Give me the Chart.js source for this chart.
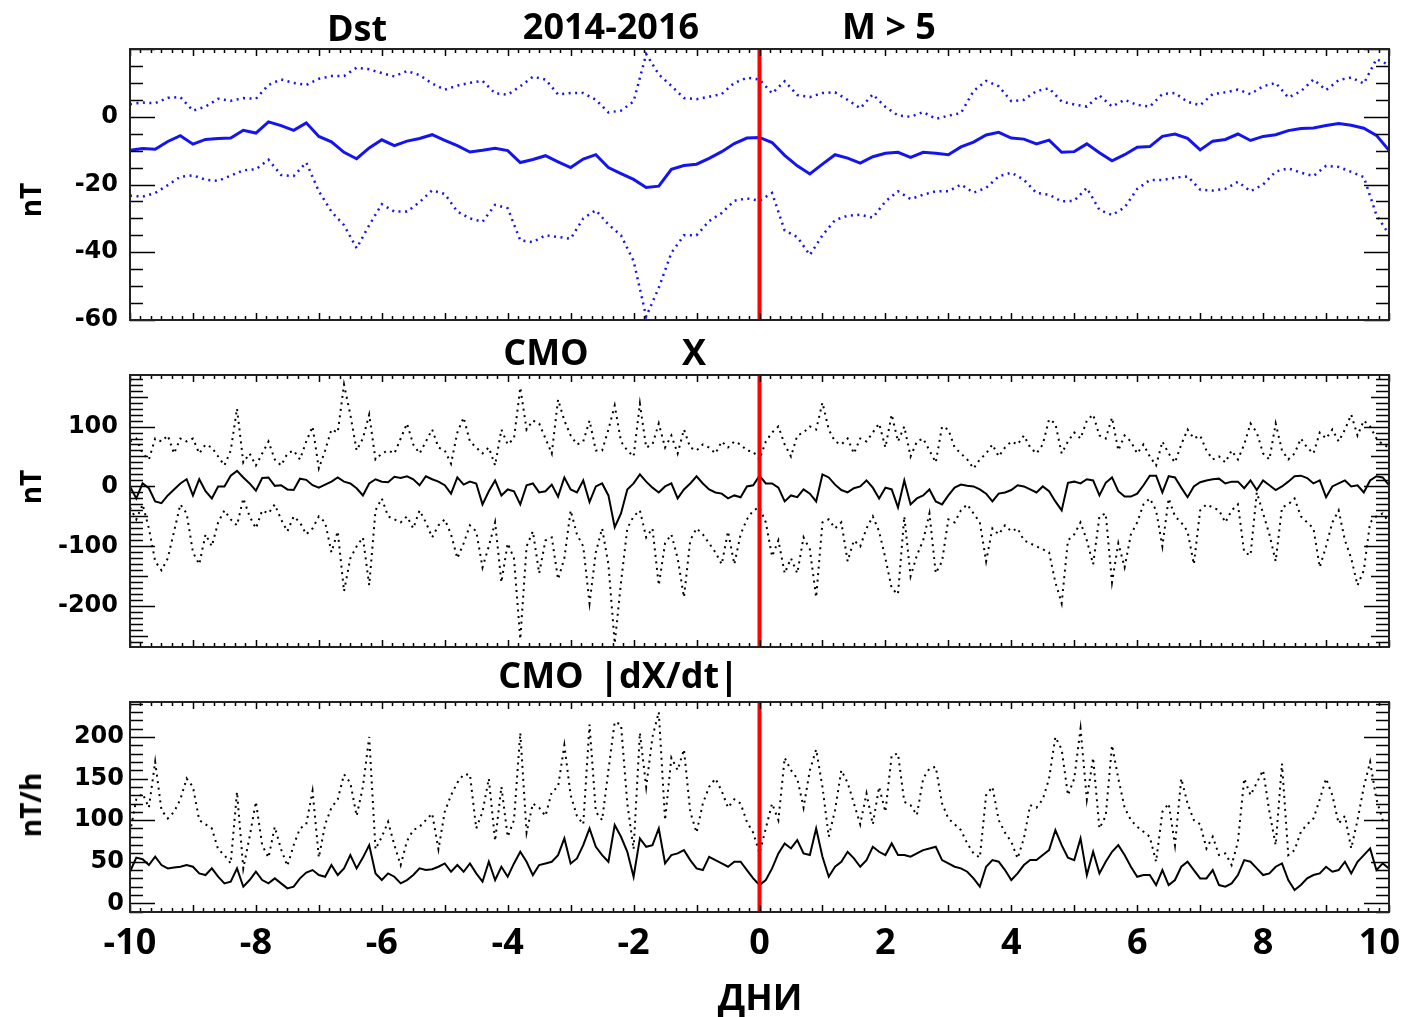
<!DOCTYPE html>
<html lang="ru">
<head>
<meta charset="UTF-8">
<title>Dst, CMO X, CMO |dX/dt| — 2014-2016, M &gt; 5</title>
<script src="https://cdn.jsdelivr.net/npm/chart.js"></script>
<style>
    body { margin: 0; background: #fff; }
    #wrap { position: relative; width: 1403px; height: 1017px; overflow: hidden; }
    #wrap canvas { position: absolute; left: 0; top: 0; }
    .lbl { position: absolute; font-family: "Open Sans", sans-serif; font-weight: 700; color: #000;
           white-space: nowrap; line-height: 1; transform: translate(-50%, -50%); }
    .big { font-size: 36px; }
    .ytitle { font-size: 28px; transform: translate(-50%, -50%) rotate(-90deg); }
</style>
</head>
<body>
<div id="wrap">
    <canvas id="pDst" width="1403" height="1017"></canvas>
    <canvas id="pX" width="1403" height="1017"></canvas>
    <canvas id="pDxdt" width="1403" height="1017"></canvas>

    <div class="lbl big" style="left:357px; top:28px;">Dst</div>
    <div class="lbl big" style="left:611px; top:26px;">2014-2016</div>
    <div class="lbl big" style="left:889px; top:26px;">M &gt; 5</div>
    <div class="lbl big" style="left:546px; top:352px;">CMO</div>
    <div class="lbl big" style="left:694px; top:352px;">X</div>
    <div class="lbl big" style="left:541px; top:675px;">CMO</div>
    <div class="lbl big" style="left:669px; top:675px;">|dX/dt|</div>
    <div class="lbl big" style="left:760px; top:997px;">ДНИ</div>
    <div class="lbl ytitle" style="left:30px; top:200px;">nT</div>
    <div class="lbl ytitle" style="left:30px; top:487px;">nT</div>
    <div class="lbl ytitle" style="left:30px; top:805px;">nT/h</div>
</div>
<script>
// время относительно события, сутки
const eventDay = 0;
const dayTicks = [-10, -8, -6, -4, -2, 0, 2, 4, 6, 8, 10];

// Dst: шаг 0.2 суток, от -10 до 10
const dstStep = 0.2;
const dstMean = [
    -9.9,-9.4,-9.6,-7.3,-5.6,-8.1,-6.7,-6.4,-6.3,-4.0,
    -4.8,-1.5,-2.6,-4.0,-1.8,-5.8,-7.4,-10.5,-12.4,-9.2,
    -6.8,-8.5,-7.2,-6.4,-5.3,-7.0,-8.5,-10.4,-9.9,-9.3,
    -10.0,-13.5,-12.6,-11.5,-13.3,-15.0,-12.5,-11.2,-15.0,-16.8,
    -18.5,-20.9,-20.5,-15.5,-14.4,-14.0,-12.3,-10.3,-7.9,-6.3,
    -6.1,
    -7.6,-11.4,-14.5,-16.9,-14.0,-11.2,-12.2,-13.7,-11.8,-10.8,
    -10.5,-12.0,-10.5,-10.8,-11.2,-8.9,-7.5,-5.4,-4.6,-6.3,
    -6.6,-8.0,-6.9,-10.5,-10.3,-8.0,-10.6,-13.0,-11.2,-9.0,
    -8.8,-5.8,-5.1,-6.4,-9.8,-7.2,-6.7,-5.1,-7.0,-5.8,
    -5.3,-4.1,-3.5,-3.3,-2.6,-2.0,-2.5,-3.4,-5.5,-9.9
];
const dstUpper = [
    3.7,4.2,4.0,5.6,5.8,1.8,3.0,5.3,4.7,5.5,
    5.3,9.4,11.0,10.0,9.4,11.2,12.0,12.0,14.5,14.0,
    12.9,11.9,13.5,12.3,9.8,8.0,9.2,10.0,10.6,6.9,
    6.5,9.0,11.8,11.0,6.6,7.0,7.0,5.0,1.3,1.8,
    4.5,18.5,12.5,9.1,5.5,5.2,5.9,6.7,10.0,11.5,
    11.0,
    6.9,10.5,6.4,5.8,7.0,7.2,5.0,2.5,6.6,2.9,
    0.4,0.0,1.4,-0.6,0.3,1.1,7.6,10.6,9.0,4.6,
    5.0,7.6,8.4,4.5,3.6,3.0,6.3,3.0,5.0,3.5,
    3.0,6.7,7.0,4.4,3.4,6.7,7.2,8.0,6.7,9.0,
    10.0,5.7,7.5,11.0,7.9,10.8,11.6,9.8,17.0,15.3
];
const dstLower = [
    -23.3,-23.6,-22.5,-20.2,-17.7,-17.3,-18.6,-18.9,-17.4,-15.8,
    -15.5,-12.7,-17.2,-17.5,-13.5,-22.0,-28.0,-32.0,-38.8,-32.0,
    -25.8,-28.0,-28.0,-25.2,-21.7,-22.8,-28.0,-30.0,-31.0,-26.0,
    -27.0,-36.5,-37.0,-35.0,-35.5,-36.0,-30.0,-27.6,-31.8,-35.0,
    -42.6,-59.0,-50.5,-40.2,-35.0,-35.0,-30.8,-28.4,-24.8,-24.1,
    -24.8,
    -22.5,-33.6,-35.5,-40.8,-35.0,-30.5,-29.2,-28.9,-29.8,-25.0,
    -22.0,-24.3,-23.0,-22.0,-22.0,-20.0,-22.4,-21.0,-17.6,-16.5,
    -18.6,-22.5,-23.0,-25.0,-24.8,-21.0,-27.5,-29.0,-26.8,-21.3,
    -18.7,-18.7,-18.0,-17.6,-21.5,-21.8,-21.3,-19.2,-22.0,-20.0,
    -16.2,-15.2,-16.5,-17.5,-14.5,-14.8,-16.3,-17.8,-29.0,-34.7
];
const dstTicks = [0, -20, -40, -60];

// CMO X: шаг 0.1 суток
const cmoStep = 0.1;
const cmoXMean = [
    0,-20,5,-3,-25,-28,-15,-5,5,12,
    -15,12,-8,-20,0,0,18,26,15,5,
    -7,14,15,1,2,-5,-6,13,11,2,
    -2,3,8,15,8,5,-3,-15,5,12,
    8,7,16,14,17,12,2,17,12,8,
    2,-12,15,3,8,5,-30,-8,10,-15,
    -5,-8,-30,2,5,-10,-8,3,-17,15,
    -5,-10,10,-26,0,5,-15,-68,-45,-5,
    5,20,8,-2,-10,0,5,-20,-5,5,
    17,5,-5,-10,-12,-20,-15,-18,0,2,
    18,
    5,5,-2,-25,-15,-18,-5,-12,-25,20,
    15,3,-6,-10,-3,0,10,-2,-20,-2,
    -5,-35,10,-30,-20,-15,-5,-25,-30,-15,
    -2,3,1,0,-5,-12,-25,-12,-10,-6,
    2,0,-5,-10,0,-8,-25,-40,6,8,
    5,12,10,-15,6,15,-8,-17,-17,-12,
    2,18,18,-10,17,15,-2,-18,0,7,
    10,12,13,5,8,8,-3,10,-6,10,
    2,-6,0,8,17,18,14,5,10,-18,
    0,5,10,0,2,-10,10,17,15,2
];
const cmoXUpper = [
    75,80,55,45,80,75,85,55,80,75,
    80,55,70,65,50,35,60,130,40,55,
    35,55,75,45,35,55,60,45,75,100,
    30,60,95,90,170,120,60,80,120,45,
    55,60,55,80,105,70,55,75,95,65,
    60,38,90,115,75,65,55,65,35,95,
    70,80,165,95,110,105,80,55,145,110,
    85,70,75,110,60,60,95,135,75,60,
    50,138,65,70,105,65,85,55,95,65,
    60,70,65,55,75,65,75,70,60,58,
    45,
    75,90,100,70,50,85,90,100,95,140,
    95,75,70,80,55,80,75,90,105,65,
    120,75,100,50,75,80,60,40,100,95,
    65,55,45,30,45,55,70,50,65,75,
    70,85,65,55,70,112,105,55,75,90,
    80,110,120,85,80,115,60,85,75,55,
    70,50,35,75,55,40,70,95,80,85,
    60,45,50,40,60,45,70,105,90,55,
    45,105,60,45,55,80,65,55,90,80,
    95,75,95,120,85,110,100,80,70,65
];
const cmoXLower = [
    -35,-55,-30,-70,-125,-140,-120,-75,-30,-45,
    -110,-130,-80,-100,-60,-40,-55,-65,-20,-50,
    -70,-40,-45,-30,-55,-75,-50,-60,-80,-70,
    -50,-60,-110,-75,-175,-120,-100,-85,-165,-40,
    -20,-50,-55,-60,-50,-70,-40,-60,-85,-65,
    -55,-80,-120,-95,-65,-75,-135,-100,-60,-160,
    -95,-120,-255,-100,-75,-145,-90,-85,-155,-120,
    -40,-80,-100,-195,-110,-70,-130,-262,-160,-70,
    -50,-40,-85,-70,-165,-95,-80,-120,-185,-90,
    -70,-80,-95,-110,-130,-75,-130,-80,-55,-40,
    -35,
    -60,-117,-90,-145,-120,-145,-85,-105,-185,-60,
    -55,-70,-60,-125,-90,-100,-70,-50,-75,-120,
    -170,-180,-50,-150,-115,-90,-45,-145,-125,-55,
    -60,-40,-30,-45,-60,-125,-70,-80,-65,-75,
    -70,-90,-95,-100,-105,-110,-160,-195,-90,-80,
    -60,-90,-130,-50,-45,-160,-95,-135,-80,-60,
    -30,-20,-40,-100,-20,-50,-60,-75,-130,-40,
    -30,-35,-40,-60,-40,-30,-110,-115,-10,-45,
    -80,-125,-35,-30,-20,-50,-60,-70,-135,-100,
    -60,-40,-90,-120,-165,-140,-60,-50,-45,-60
];
const cmoXTicks = [100, 0, -100, -200];

// CMO |dX/dt|: шаг 0.1 суток
const dxdtMean = [
    38,55,53,46,56,46,42,43,44,46,
    44,36,34,42,32,24,26,42,20,28,
    38,28,24,30,24,18,20,30,37,40,
    34,32,46,34,42,58,42,55,70,36,
    28,36,32,24,28,34,42,40,41,44,
    48,38,46,38,48,36,26,50,28,44,
    32,48,62,50,34,46,48,50,58,78,
    48,54,70,90,68,58,50,94,80,62,
    32,78,68,70,90,48,58,60,64,52,
    42,40,56,52,48,44,50,50,40,30,
    22,
    28,42,60,72,66,76,60,58,90,56,
    32,44,50,62,54,44,52,68,62,58,
    72,58,58,56,60,64,66,68,52,48,
    44,42,38,30,20,44,52,50,40,28,
    36,46,52,52,58,64,88,70,55,52,
    78,34,62,36,50,62,70,58,44,32,
    34,34,22,40,22,28,44,50,40,30,
    30,40,22,20,24,34,52,50,42,34,
    36,44,48,28,16,22,30,34,36,44,
    38,40,50,36,50,58,66,40,48,42
];
const dxdtUpper = [
    85,125,132,115,170,112,102,110,125,150,
    140,100,95,90,65,58,48,134,42,80,
    122,70,55,92,65,45,70,90,95,135,
    55,95,115,125,155,145,105,140,200,65,
    80,98,70,46,75,88,92,100,108,65,
    110,130,145,155,155,90,110,150,75,140,
    80,100,205,85,120,115,105,134,140,190,
    130,105,95,215,110,100,160,218,215,120,
    65,205,140,200,230,100,175,160,185,110,
    85,120,140,150,135,115,125,120,98,85,
    60,
    90,120,100,175,160,150,115,160,185,140,
    80,112,160,145,120,95,132,95,140,110,
    178,180,122,118,106,150,162,164,120,102,
    95,88,72,60,55,130,140,100,85,74,
    54,78,118,115,125,150,200,185,130,150,
    210,125,175,90,105,190,150,115,100,92,
    86,80,50,110,120,70,150,120,100,95,
    66,80,58,60,46,74,150,130,145,160,
    110,70,168,58,64,86,95,102,125,150,
    130,96,105,66,100,140,170,125,100,100
];
const dxdtTicks = [200, 150, 100, 50, 0];

const blue = '#1414f0';
const dayFont = 'bold 36px "Open Sans"';

function toPoints(values, step) {
    return values.map((v, i) => ({ x: -10 + i * step, y: v }));
}

function dotted(values, step, color, width) {
    return { data: toPoints(values, step), borderColor: color, borderWidth: width,
             borderDash: [2, 4.5], fill: false };
}
function solid(values, step, color, width) {
    return { data: toPoints(values, step), borderColor: color, borderWidth: width, fill: false };
}

// рамка и засечки внутрь, как в ROOT
const panelFrame = {
    id: 'panelFrame',
    afterDraw(chart, args, opts) {
        const { ctx, chartArea: a, scales } = chart;
        const x = scales.x, y = scales.y;
        ctx.save();
        ctx.strokeStyle = '#000';
        ctx.lineWidth = 1.5;
        ctx.beginPath();
        for (let i = -60; i <= 60; i++) {
            const px = Math.round(x.getPixelForValue(i / 6)) + 0.5;
            const len = i % 6 === 0 ? 7 : 4;
            ctx.moveTo(px, a.bottom); ctx.lineTo(px, a.bottom - len);
            ctx.moveTo(px, a.top); ctx.lineTo(px, a.top + len);
        }
        const k0 = Math.ceil(y.min / opts.yMinor), k1 = Math.floor(y.max / opts.yMinor);
        for (let k = k0; k <= k1; k++) {
            const v = k * opts.yMinor;
            const py = Math.round(y.getPixelForValue(v)) + 0.5;
            let len = 13;
            if (v % opts.yMajor === 0) len = 25;
            else if (opts.yMid && v % opts.yMid === 0) len = 18;
            ctx.moveTo(a.left, py); ctx.lineTo(a.left + len, py);
            ctx.moveTo(a.right, py); ctx.lineTo(a.right - len, py);
        }
        ctx.stroke();
        ctx.lineWidth = 2;
        ctx.strokeStyle = '#222';
        ctx.strokeRect(a.left, a.top, a.width, a.height);

        // последняя подпись оси времени прижата к краю
        if (opts.lastDayLabel) {
            const last = dayTicks[dayTicks.length - 1];
            const txt = String(last);
            ctx.font = dayFont;
            ctx.fillStyle = '#000';
            ctx.textBaseline = 'middle';
            ctx.textAlign = 'right';
            const w = ctx.measureText(txt).width;
            const right = Math.min(x.getPixelForValue(last) + w / 2, chart.width - 3);
            ctx.fillText(txt, right, a.bottom + 10 + 21.6);
        }
        ctx.restore();
    }
};

// красная линия в момент события
const eventLine = {
    id: 'eventLine',
    afterDatasetsDraw(chart) {
        const { ctx, chartArea: a, scales: { x } } = chart;
        const px = x.getPixelForValue(eventDay);
        ctx.save();
        ctx.strokeStyle = '#ff0000';
        ctx.lineWidth = 4;
        ctx.beginPath();
        ctx.moveTo(px, a.top);
        ctx.lineTo(px, a.bottom);
        ctx.stroke();
        ctx.restore();
    }
};

function makePanel(id, p) {
    const lastDay = dayTicks[dayTicks.length - 1];
    const xAxis = {
        type: 'linear', min: -10, max: 10, display: p.showX,
        grid: { display: false, drawTicks: false }, border: { display: false },
        afterBuildTicks: s => { s.ticks = dayTicks.map(v => ({ value: v })); },
        afterFit: s => {
            // крайние подписи не должны сужать область графика
            s.paddingLeft = 0;
            s.paddingRight = 0;
            if (p.showX) s.height = p.xHeight;
        },
        ticks: { autoSkip: false, maxRotation: 0, padding: 10, color: '#000',
                 font: { family: '"Open Sans"', weight: 'bold', size: 36 },
                 callback: v => (v === lastDay ? '' : String(v)) }
    };
    return new Chart(document.getElementById(id), {
        type: 'line',
        data: { datasets: p.datasets },
        options: {
            responsive: false,
            animation: false,
            devicePixelRatio: 1,
            layout: { padding: { top: p.top, bottom: p.bottom, left: 0, right: 14 } },
            elements: { point: { radius: 0 }, line: { tension: 0 } },
            plugins: { legend: { display: false }, tooltip: { enabled: false }, panelFrame: p.frame },
            scales: {
                x: xAxis,
                y: {
                    min: p.yMin, max: p.yMax,
                    grid: { display: false, drawTicks: false }, border: { display: false },
                    afterFit: s => { s.width = 130; s.paddingTop = 0; s.paddingBottom = 0; },
                    afterBuildTicks: s => { s.ticks = p.yLabels.map(v => ({ value: v })); },
                    ticks: { autoSkip: false, padding: p.labelPad, color: '#000',
                             font: { family: '"DejaVu Sans"', weight: 'bold', size: 24 } }
                }
            }
        },
        plugins: [panelFrame, eventLine]
    });
}

makePanel('pDst', {
    top: 49, bottom: 1017 - 320, showX: false,
    yMin: -60, yMax: 20, yLabels: dstTicks, labelPad: 12,
    frame: { yMajor: 20, yMinor: 5 },
    datasets: [
        dotted(dstUpper, dstStep, blue, 2.5),
        dotted(dstLower, dstStep, blue, 2.5),
        solid(dstMean, dstStep, blue, 3)
    ]
});

makePanel('pX', {
    top: 375, bottom: 1017 - 647, showX: false,
    yMin: -268, yMax: 186, yLabels: cmoXTicks, labelPad: 12,
    frame: { yMajor: 100, yMid: 50, yMinor: 10 },
    datasets: [
        dotted(cmoXUpper, cmoStep, '#000', 2),
        dotted(cmoXLower, cmoStep, '#000', 2),
        solid(cmoXMean, cmoStep, '#000', 2)
    ]
});

makePanel('pDxdt', {
    top: 702, bottom: 0, showX: true, xHeight: 1017 - 912,
    yMin: -10.4, yMax: 242, yLabels: dxdtTicks, labelPad: 6,
    frame: { yMajor: 100, yMid: 50, yMinor: 10, lastDayLabel: true },
    datasets: [
        dotted(dxdtUpper, cmoStep, '#000', 2),
        solid(dxdtMean, cmoStep, '#000', 2)
    ]
});
</script>
</body>
</html>
